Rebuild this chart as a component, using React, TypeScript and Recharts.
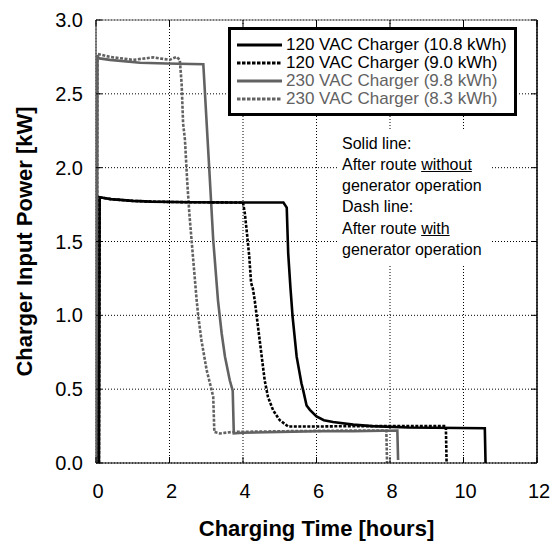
import React from 'react';
import { LineChart, Line, XAxis, YAxis, CartesianGrid, ReferenceLine, Legend } from 'recharts';

// ---- data (hours, kW) ----
const xTicks = [0, 2, 4, 6, 8, 10, 12];
const yTicks = [0, 0.5, 1.0, 1.5, 2.0, 2.5, 3.0];

const seriesLabels = [
  '120 VAC Charger (10.8 kWh)',
  '120 VAC Charger (9.0 kWh)',
  '230 VAC Charger (9.8 kWh)',
  '230 VAC Charger (8.3 kWh)',
];

const ac120Solid: [number, number][] = [
  [0.08, 0], [0.1, 1.8], [0.4, 1.787], [1.0, 1.775], [1.5, 1.77], [2.5, 1.766], [3.7, 1.764],
  [5.1, 1.764], [5.19, 1.73], [5.23, 1.42], [5.29, 1.19], [5.35, 0.99], [5.46, 0.72],
  [5.59, 0.54], [5.64, 0.49], [5.73, 0.39], [5.82, 0.36], [6.0, 0.315], [6.2, 0.29],
  [6.45, 0.278], [7.0, 0.26], [7.5, 0.25], [8.5, 0.24], [10.58, 0.235], [10.6, 0],
];

const ac120Dash: [number, number][] = [
  [0.08, 0], [0.1, 1.8], [0.4, 1.787], [1.0, 1.775], [1.5, 1.77], [2.5, 1.766],
  [4.0, 1.764], [4.05, 1.69], [4.11, 1.55], [4.17, 1.4], [4.22, 1.22], [4.27, 1.18],
  [4.32, 1.1], [4.41, 0.92], [4.5, 0.74], [4.59, 0.56], [4.68, 0.447], [4.82, 0.357],
  [5.0, 0.29], [5.23, 0.247], [6.0, 0.247], [7.0, 0.25], [8.0, 0.25], [9.0, 0.25],
  [9.52, 0.25], [9.54, 0],
];

const ac230Solid: [number, number][] = [
  [0.02, 0], [0.04, 2.75], [0.1, 2.74], [0.38, 2.73], [1.2, 2.71], [1.92, 2.705],
  [2.92, 2.7], [3.08, 2.0], [3.19, 1.51], [3.32, 1.1], [3.42, 0.877], [3.51, 0.72],
  [3.64, 0.56], [3.72, 0.49], [3.75, 0.2], [4.0, 0.205], [5.0, 0.21], [6.0, 0.215],
  [7.0, 0.215], [8.2, 0.22], [8.22, 0.02],
];

const ac230Dash: [number, number][] = [
  [0.02, 0], [0.04, 2.77], [0.38, 2.75], [1.01, 2.73], [1.56, 2.747], [2.0, 2.73],
  [2.19, 2.75], [2.28, 2.73], [2.33, 2.57], [2.37, 2.3], [2.42, 2.19], [2.48, 1.915],
  [2.54, 1.69], [2.6, 1.51], [2.74, 1.1], [2.78, 1.0], [2.87, 0.83], [3.01, 0.63],
  [3.15, 0.49], [3.19, 0.447], [3.22, 0.21], [3.37, 0.2], [3.69, 0.21], [5.0, 0.215],
  [7.0, 0.22], [7.9, 0.22], [7.92, 0],
];

const annotationLines = [
  ['Solid line:', '', ''],
  ['After route ', 'without', ''],
  ['generator operation', '', ''],
  ['Dash line:', '', ''],
  ['After route ', 'with', ''],
  ['generator operation', '', ''],
];

const toRows = (pts: [number, number][]) => pts.map(([t, p]) => ({ t, p }));

const GRAY = '#626262';
const FONT = '"Liberation Sans", Arial, Helvetica, sans-serif';
const DASH = '3 1.5';

const styles = [
  { color: '#000', dash: undefined as string | undefined, text: '#000', data: toRows(ac120Solid) },
  { color: '#000', dash: DASH, text: '#000', data: toRows(ac120Dash) },
  { color: GRAY, dash: undefined as string | undefined, text: GRAY, data: toRows(ac230Solid) },
  { color: GRAY, dash: DASH, text: GRAY, data: toRows(ac230Dash) },
];

const W = 553;
const H = 542;
const M = { top: 20, right: 16, bottom: 0, left: 0 };
const Y_AXIS_W = 96;
const X_AXIS_H = 79;
const PLOT_H = H - M.top - M.bottom - X_AXIS_H;
const PLOT_W = W - M.left - M.right - Y_AXIS_W;

const XTick = (props: any) => {
  const { x, y, payload } = props;
  return (
    <g>
      <line x1={x} y1={y} x2={x} y2={y - 6} stroke="#000" strokeWidth={1} />
      <line x1={x} y1={y - PLOT_H} x2={x} y2={y - PLOT_H + 6} stroke="#000" strokeWidth={1} />
      <text x={x + 2} y={y + 35} textAnchor="middle" fontSize={20} fontFamily={FONT} fill="#000">
        {payload.value}
      </text>
    </g>
  );
};

const YTick = (props: any) => {
  const { x, y, payload } = props;
  return (
    <g>
      <line x1={x} y1={y} x2={x + 6} y2={y} stroke="#000" strokeWidth={1} />
      <line x1={x + PLOT_W} y1={y} x2={x + PLOT_W - 6} y2={y} stroke="#000" strokeWidth={1} />
      <text x={x - 13} y={y + 7} textAnchor="end" fontSize={20} fontFamily={FONT} fill="#000">
        {Number(payload.value).toFixed(1)}
      </text>
    </g>
  );
};

const XLabel = (props: any) => {
  const vb = props.viewBox || { x: Y_AXIS_W, y: M.top + PLOT_H, width: PLOT_W, height: X_AXIS_H };
  return (
    <text x={vb.x + vb.width / 2} y={vb.y + 73} textAnchor="middle" fontSize={22} fontWeight="bold" fontFamily={FONT} fill="#000">
      Charging Time [hours]
    </text>
  );
};

const YLabel = (props: any) => {
  const vb = props.viewBox || { x: 0, y: M.top, width: Y_AXIS_W, height: PLOT_H };
  const cx = vb.x + 32;
  const cy = vb.y + vb.height / 2;
  return (
    <text x={cx} y={cy} transform={`rotate(-90 ${cx} ${cy})`} textAnchor="middle" fontSize={22} fontWeight="bold" fontFamily={FONT} fill="#000">
      Charger Input Power [kW]
    </text>
  );
};

const LegendBox = () => (
  <div
    style={{
      boxSizing: 'border-box',
      width: 289,
      height: 89,
      border: '3px solid #000',
      background: '#fff',
      padding: '6px 0 0 6px',
      fontFamily: FONT,
      fontSize: 17,
      lineHeight: '18px',
    }}
  >
    {seriesLabels.map((label, i) => (
      <div key={label} style={{ display: 'flex', alignItems: 'center', height: 18, whiteSpace: 'nowrap' }}>
        <svg width={45} height={6} style={{ display: 'block' }}>
          <line x1={0} y1={3} x2={45} y2={3} stroke={styles[i].color} strokeWidth={3} strokeDasharray={styles[i].dash ? '3.5 1.5' : undefined} />
        </svg>
        <span style={{ marginLeft: 4, color: styles[i].text }}>{label}</span>
      </div>
    ))}
  </div>
);

export default function App() {
  return (
    <div style={{ position: 'absolute', left: 0, top: 0, width: W, height: H, background: '#fff' }}>
      <LineChart width={W} height={H} margin={M}>
        <CartesianGrid stroke="#000" strokeDasharray="1 2" strokeWidth={1} />
        <XAxis
          dataKey="t"
          type="number"
          domain={[0, 12]}
          ticks={xTicks}
          height={X_AXIS_H}
          tickSize={0}
          tickMargin={0}
          tickLine={false}
          axisLine={{ stroke: '#000', strokeWidth: 1 }}
          tick={<XTick />}
          interval={0}
          allowDataOverflow
          label={<XLabel />}
        />
        <YAxis
          type="number"
          domain={[0, 3]}
          ticks={yTicks}
          width={Y_AXIS_W}
          tickSize={0}
          tickMargin={0}
          tickLine={false}
          axisLine={{ stroke: GRAY, strokeWidth: 1.5 }}
          tick={<YTick />}
          interval={0}
          allowDataOverflow
          label={<YLabel />}
        />
        <ReferenceLine x={12} stroke="#000" strokeWidth={1.5} />
        <ReferenceLine y={3} stroke="#777" strokeWidth={1} />
        {[3, 2, 1, 0].map((i) => (
          <Line
            key={seriesLabels[i]}
            name={seriesLabels[i]}
            data={styles[i].data}
            dataKey="p"
            type="linear"
            dot={false}
            activeDot={false}
            stroke={styles[i].color}
            strokeWidth={2.6}
            strokeDasharray={styles[i].dash}
            isAnimationActive={false}
          />
        ))}
        <Legend
          layout="horizontal"
          align="center"
          verticalAlign="middle"
          content={<LegendBox />}
          wrapperStyle={{ left: 228, top: 27, width: 289, height: 89 }}
        />
      </LineChart>
      <div
        style={{
          position: 'absolute',
          left: 339,
          top: 130,
          width: 151,
          height: 134,
          background: '#fff',
          boxSizing: 'border-box',
          padding: '2.5px 0 0 3px',
          fontFamily: FONT,
          fontSize: 16,
          lineHeight: '21.3px',
          color: '#000',
          whiteSpace: 'nowrap',
        }}
      >
        {annotationLines.map((ln, i) => (
          <div key={i}>
            {ln[0]}
            {ln[1] ? <u>{ln[1]}</u> : null}
            {ln[2]}
          </div>
        ))}
      </div>
    </div>
  );
}
